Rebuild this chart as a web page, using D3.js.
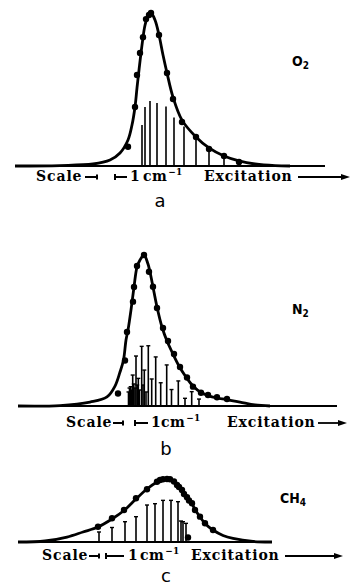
<!DOCTYPE html>
<html>
<head>
<meta charset="utf-8">
<script src="https://cdn.jsdelivr.net/npm/d3@7"></script>
<style>
  body { margin: 0; background: #fff; }
  svg { display: block; }
</style>
</head>
<body>
<script>
// all x values in arbitrary excitation units, y = relative intensity (peak = 100)

// --- a : O2
var o2Curve = [[0,0],[4.5,0.3],[7.8,1.3],[9.5,3.9],[10.5,8.5],[11.3,17],[11.7,26.8],[12,38.6],[12.2,51],[12.4,62.7],
               [12.7,79],[13,92],[13.3,98],[13.6,100],[14,95.4],[14.4,85.6],[14.8,72.5],[15.2,60.8],[15.8,45],[16.7,30],
               [18.1,19],[19.4,11.8],[20.9,6.5],[22.4,3.3],[24,1.3],[26,0.2],[27.5,0]];
var o2Dots = [[11.3,12.6],[12,38.6],[12.2,59.5],[12.5,73.9],[12.8,84.2],[13.1,96],[13.4,98.7],[13.6,100],
              [14.4,85.6],[15.2,60.8],[15.8,43.8],[16.7,28.8],[18.1,19],[19.4,11.1],[20.9,6.5],[22.4,2.6]];
var o2Sticks = [[12.7,26.8],[13,38.6],[13.5,42.5],[14.2,41.2],[15.1,38.9],[15.9,31.7],[16.9,25.8],
                [18.1,19.6],[19.4,11.4],[20.9,6.9],[22.5,2.6]];

// --- b : N2
var n2Curve = [[0.3,0],[4.5,0.3],[7.5,2.6],[9.2,6],[10,13.2],[10.5,22.5],[10.85,30.5],[11.1,43.7],[11.3,50.3],
               [11.6,63.6],[11.9,78.8],[12.2,92],[12.5,96.7],[12.9,100],[13.3,94],[13.5,88.7],[13.8,78.8],[14.2,65.6],
               [14.7,52.3],[15.2,43],[15.8,34.4],[16.4,26.5],[17.1,19.2],[17.8,13.2],[18.6,8.9],[19.3,6.9],[20.2,5.3],
               [21.1,4.3],[22.5,2.6],[24,0.7],[25.5,0]];
var n2Dots = [[10.3,8.3],[11,30.1],[11.2,49],[11.8,69.1],[11.9,78.8],[12.2,92.7],[12.9,100],[13.4,88.9],[13.8,79],
              [14.2,64.9],[14.8,51.7],[15.3,43],[15.9,34.4],[16.5,25.8],[17.2,18.9],[17.8,12.8],[18.6,8.8],[19.3,7.3],
              [20.2,5.8],[21.2,4.6]];
var n2Sticks = [[11.35,9.3],[11.45,11.9],[11.57,12.8],[11.65,10.6],[11.77,20.5],[11.88,14.6],[12,11.9],[12.1,33.1],
                [12.22,13.9],[12.33,18.3],[12.45,10.6],[12.67,39.5],[12.8,13.9],[12.93,23.8],[13.1,9.3],[13.33,39.9],
                [13.67,17.9],[14.07,32.5],[14.57,15.4],[15.17,27.2],[15.65,10.9],[16.33,16.6],[17,5.1],[17.67,9.5],[18.4,4.6]];

// --- c : CH4
var ch4Curve = [[0.3,0],[3,1.6],[5.2,7.9],[6.8,15.9],[8.3,23.8],[9.7,36.5],[10.9,50],[12.1,68.3],[13.2,84.1],
                [14.2,95.2],[14.8,99.5],[15.5,99.5],[16.2,92.1],[16.7,82.5],[17.2,71.4],[17.7,60.3],[18.1,49.2],
                [18.5,39.7],[19,29.4],[19.8,19],[20.8,10.3],[21.8,5.6],[23.8,0.8],[25.7,0]];
var ch4Dots = [[8.3,24.3],[9.7,37.6],[10.9,50.8],[12.1,69.4],[13.2,83.7],[14.2,95.7],[14.5,98.4],[14.8,99.5],
               [15.2,100],[15.5,99.5],[15.9,96],[16.2,90.5],[16.4,87.3],[16.7,82.5],[16.9,76.2],[17.2,71],[17.4,65.9],
               [17.7,61.4],[18,50.8],[18.5,40.2],[19,29.7],[19.8,19],[17.3,7.1]];
var ch4Sticks = [[8.4,15.9],[9.7,23],[11,32.2],[12.1,40.2],[13.2,58.7],[14,60.8],[14.8,66.1],[15.6,66.1],
                 [16.3,64],[16.6,33.3],[16.8,32.2],[17.1,29.6]];

// molecule names: main part + subscript
var molecules = [["O", "2"], ["N", "2"], ["CH", "4"]];
var panelLetters = ["a", "b", "c"];
var baselineExtent = [[0, 31], [0.3, 32.2], [0.3, 25.7]];

// layout of each panel (pixels)
var layout = [
  { base: 166, top: 13,  capped: false, label: [292, 66],  letter: [160, 207], textY: 181,
    scaleX: 36, m1: [85, 97], m2: [115, 127], oneX: 130, cmX: 143, excX: 204, arrow: [298, 350] },
  { base: 406, top: 255, capped: true,  label: [292, 314], letter: [166, 455], textY: 427,
    scaleX: 66, m1: [113, 123], m2: [135, 148], oneX: 151, cmX: 161, excX: 227, arrow: [318, 347] },
  { base: 542, top: 479, capped: true,  label: [280, 503], letter: [166, 582], textY: 560,
    scaleX: 42, m1: [89, 99], m2: [106, 124], oneX: 128, cmX: 140, excX: 191, arrow: [285, 343] }
];

var curves = [o2Curve, n2Curve, ch4Curve];
var dots = [o2Dots, n2Dots, ch4Dots];
var sticks = [o2Sticks, n2Sticks, ch4Sticks];

var svg = d3.select("body").append("svg")
            .attr("width", 352)
            .attr("height", 586);

var x = d3.scaleLinear().domain([0, 32]).range([15, 335]);

layout.forEach(function (L, i) {
  var y = d3.scaleLinear().domain([0, 100]).range([L.base, L.top]);
  var g = svg.append("g");

  // baseline
  g.append("line")
   .attr("x1", x(baselineExtent[i][0]))
   .attr("x2", x(baselineExtent[i][1]))
   .attr("y1", y(0)).attr("y2", y(0))
   .attr("stroke", "#000").attr("stroke-width", 2);

  // sticks
  g.selectAll(".stick").data(sticks[i]).enter().append("line")
   .attr("class", "stick")
   .attr("x1", function (d) { return x(d[0]); })
   .attr("x2", function (d) { return x(d[0]); })
   .attr("y1", y(0))
   .attr("y2", function (d) { return y(d[1]); })
   .attr("stroke", "#000").attr("stroke-width", 1.6);

  if (L.capped) {
    g.selectAll(".cap").data(sticks[i]).enter().append("line")
     .attr("class", "cap")
     .attr("x1", function (d) { return x(d[0]) - 2; })
     .attr("x2", function (d) { return x(d[0]) + 2; })
     .attr("y1", function (d) { return y(d[1]); })
     .attr("y2", function (d) { return y(d[1]); })
     .attr("stroke", "#000").attr("stroke-width", 1.4);
  }

  // fitted curve
  var line = d3.line()
               .x(function (d) { return x(d[0]); })
               .y(function (d) { return y(d[1]); })
               .curve(d3.curveCatmullRom.alpha(0.5));

  g.append("path")
   .datum(curves[i])
   .attr("d", line)
   .attr("fill", "none")
   .attr("stroke", "#000")
   .attr("stroke-width", 2.8)
   .attr("stroke-linejoin", "round");

  // measured points
  g.selectAll(".dot").data(dots[i]).enter().append("circle")
   .attr("class", "dot")
   .attr("cx", function (d) { return x(d[0]); })
   .attr("cy", function (d) { return y(d[1]); })
   .attr("r", 3.2)
   .attr("fill", "#000");

  // molecule label
  var mol = g.append("text")
             .attr("x", L.label[0]).attr("y", L.label[1])
             .style("font-family", "'DejaVu Sans Condensed', 'DejaVu Sans', sans-serif")
             .style("font-stretch", "condensed")
             .style("font-weight", "bold")
             .style("font-size", "14px");
  mol.append("tspan").text(molecules[i][0]);
  mol.append("tspan")
     .attr("dy", 3)
     .style("font-size", "10px")
     .text(molecules[i][1]);

  // scale / excitation row
  var ty = L.textY, my = ty - 4;
  var serif = "'DejaVu Serif', serif";

  g.append("text")
   .attr("x", L.scaleX).attr("y", ty)
   .style("font-family", serif).style("font-size", "14px").style("font-weight", "bold")
   .style("letter-spacing", "0.9px")
   .text("Scale");

  g.append("path")
   .attr("d", "M" + L.m1[0] + "," + my + "H" + L.m1[1] + "M" + L.m1[1] + "," + (my - 2.5) + "V" + (my + 2.5))
   .attr("stroke", "#000").attr("stroke-width", 2).attr("fill", "none");

  g.append("path")
   .attr("d", "M" + L.m2[0] + "," + (my - 3) + "V" + (my + 3) + "M" + L.m2[0] + "," + my + "H" + L.m2[1])
   .attr("stroke", "#000").attr("stroke-width", 2).attr("fill", "none");

  g.append("text")
   .attr("x", L.oneX).attr("y", ty)
   .style("font-family", serif).style("font-size", "14px").style("font-weight", "bold")
   .text("1");

  var cm = g.append("text")
            .attr("x", L.cmX).attr("y", ty)
            .style("font-family", serif).style("font-size", "14px").style("font-weight", "bold")
            .style("letter-spacing", "0.4px");
  cm.append("tspan").text("cm");
  cm.append("tspan")
    .attr("dx", 1).attr("dy", -6)
    .style("font-size", "9px")
    .text("\u22121");

  g.append("text")
   .attr("x", L.excX).attr("y", ty)
   .style("font-family", serif).style("font-size", "14px").style("font-weight", "bold")
   .style("letter-spacing", "0.9px")
   .text("Excitation");

  g.append("line")
   .attr("x1", L.arrow[0]).attr("x2", L.arrow[1] - 6)
   .attr("y1", my).attr("y2", my)
   .attr("stroke", "#000").attr("stroke-width", 1.8);
  g.append("path")
   .attr("d", "M" + L.arrow[1] + "," + my + "L" + (L.arrow[1] - 9) + "," + (my - 3) + "L" + (L.arrow[1] - 9) + "," + (my + 3) + "Z")
   .attr("fill", "#000");

  // panel letter
  g.append("text")
   .attr("x", L.letter[0]).attr("y", L.letter[1])
   .attr("text-anchor", "middle")
   .style("font-family", "'DejaVu Sans', sans-serif")
   .style("font-size", "18px")
   .text(panelLetters[i]);
});
</script>
</body>
</html>
